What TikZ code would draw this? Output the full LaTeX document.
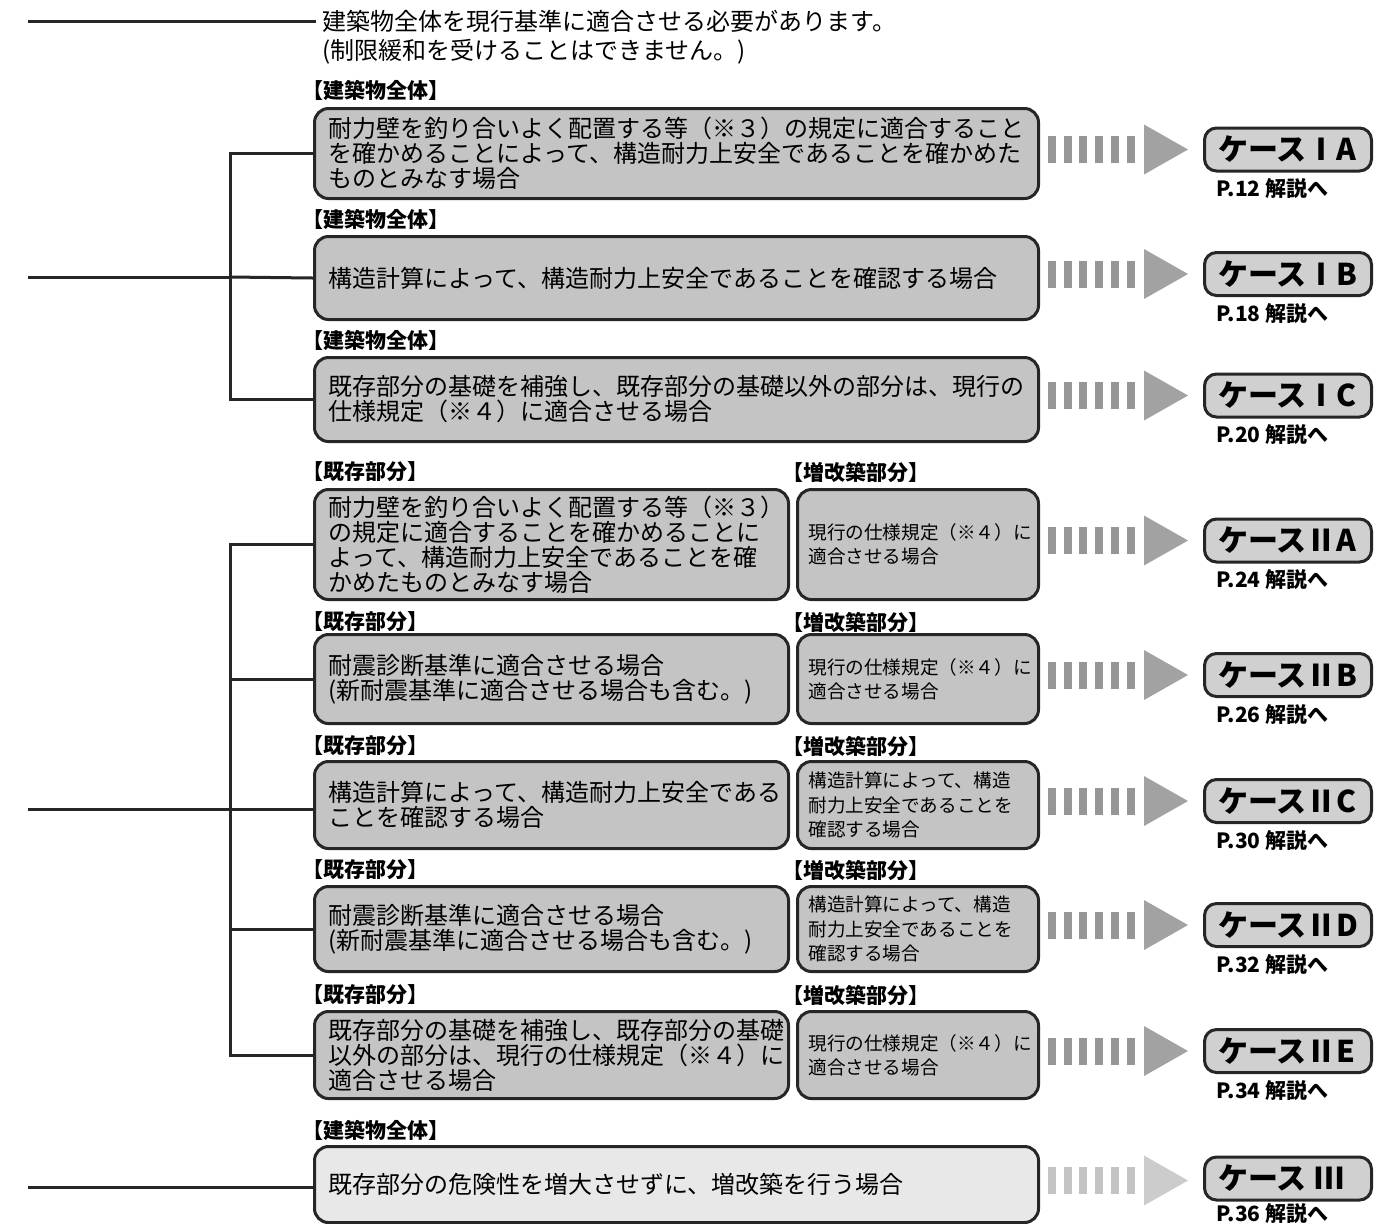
\documentclass[tikz,border=0pt]{standalone}
\usepackage{fontspec}
\setmainfont{Noto Sans CJK JP}
\usetikzlibrary{calc, positioning}
\definecolor{cBox}{RGB}{196,196,196}
\definecolor{cCase}{RGB}{208,208,208}
\definecolor{cLite}{RGB}{232,232,232}
\definecolor{cEdge}{RGB}{38,38,38}
\definecolor{cBar}{RGB}{150,150,150}
\definecolor{cTri}{RGB}{162,162,162}
\definecolor{cBarLite}{RGB}{196,196,196}
\definecolor{cTriLite}{RGB}{204,204,204}

\tikzset{
  box/.style={draw=cEdge, line width=1.5pt, rounded corners=7pt, fill=cBox, anchor=north west,
    align=left, inner xsep=7pt, inner ysep=0pt, font=\fontsize{12}{12.5}\selectfont},
  widebox/.style={box, text width=348pt},
  leftbox/.style={box, text width=223pt},
  rightbox/.style={box, text width=109.5pt, inner xsep=5.5pt, font=\fontsize{9.3}{12.2}\selectfont},
  tag/.style={anchor=west, inner sep=0pt, font=\bfseries\fontsize{10.5}{11}\selectfont},
  casebox/.style={draw=cEdge, line width=1.5pt, rounded corners=6pt, fill=cCase, anchor=west,
    minimum height=21.5pt, text width=70pt, inner xsep=6.75pt, inner ysep=0pt, align=left,
    font=\bfseries\fontsize{15}{15}\selectfont},
  ref/.style={anchor=north west, inner sep=0pt, font=\bfseries\fontsize{10.5}{10.5}\selectfont},
  wire/.style={draw=cEdge, line width=1.5pt},
}

% striped arrow from a row to its case box
\newcommand{\bararrow}[3]{%
  \foreach \k in {0,...,5}
    \fill[#2] ($(#1.east)+(8+15.7*\k,-17.5)$) rectangle +(8,27);
  \fill[#3] ($(#1.east)+(104,-29)$) -- ++(44,25) -- ++(-44,25) -- cycle;
}

\begin{document}
\begin{tikzpicture}[x=0.5pt, y=-0.5pt]
    \useasboundingbox (0,0) rectangle (1396,1223);

    % Top line
    \coordinate (s0) at (28,21);
    \node[anchor=west, inner xsep=3pt, font=\fontsize{12}{15}\selectfont] (top1) at (316,21) {建築物全体を現行基準に適合させる必要があります。};
    \node[anchor=west, inner xsep=3pt, font=\fontsize{12}{15}\selectfont] (top2) at (316,52) {(制限緩和を受けることはできません。)};
    \draw[wire] (s0) -- (top1.west);

    % Case I
    \node[tag] (ia-tag) at (302,90) {【建築物全体】};
    \node[widebox, minimum height=45pt] (ia) at (313,107) {耐力壁を釣り合いよく配置する等（※３）の規定に適合すること\\を確かめることによって、構造耐力上安全であることを確かめた\\ものとみなす場合};
    \node[tag] (ib-tag) at (302,219) {【建築物全体】};
    \node[widebox, minimum height=41.5pt] (ib) at (313,235) {構造計算によって、構造耐力上安全であることを確認する場合};
    \node[tag] (ic-tag) at (302,340) {【建築物全体】};
    \node[widebox, minimum height=42pt] (ic) at (313,356) {既存部分の基礎を補強し、既存部分の基礎以外の部分は、現行の\\仕様規定（※４）に適合させる場合};

    \coordinate (s1) at (28,277);
    \coordinate (j1) at (230,277);
    \draw[wire] (s1) -- (j1);
    \draw[wire] (ia.west) -| (j1) |- (ic.west);
    \draw[wire] (j1) -- (ib.west);

    % Case II
    \node[tag] (iia-tag) at (302,472) {【既存部分】};
    \node[tag] (iia-tag2) at (782,472) {【増改築部分】};
    \node[leftbox, minimum height=55pt] (iia-l) at (313,488) {耐力壁を釣り合いよく配置する等（※３）\\の規定に適合することを確かめることに\\よって、構造耐力上安全であることを確\\かめたものとみなす場合};
    \node[rightbox, minimum height=55pt] (iia) at (796,488) {現行の仕様規定（※４）に\\適合させる場合};

    \node[tag] (iib-tag) at (302,622) {【既存部分】};
    \node[tag] (iib-tag2) at (782,622) {【増改築部分】};
    \node[leftbox, minimum height=44.5pt] (iib-l) at (313,633) {耐震診断基準に適合させる場合\\(新耐震基準に適合させる場合も含む。)};
    \node[rightbox, minimum height=44.5pt] (iib) at (796,633) {現行の仕様規定（※４）に\\適合させる場合};

    \node[tag] (iic-tag) at (302,746) {【既存部分】};
    \node[tag] (iic-tag2) at (782,746) {【増改築部分】};
    \node[leftbox, minimum height=43.5pt] (iic-l) at (313,760) {構造計算によって、構造耐力上安全である\\ことを確認する場合};
    \node[rightbox, minimum height=43.5pt] (iic) at (796,760) {構造計算によって、構造\\耐力上安全であることを\\確認する場合};

    \node[tag] (iid-tag) at (302,870) {【既存部分】};
    \node[tag] (iid-tag2) at (782,870) {【増改築部分】};
    \node[leftbox, minimum height=42.5pt] (iid-l) at (313,885) {耐震診断基準に適合させる場合\\(新耐震基準に適合させる場合も含む。)};
    \node[rightbox, minimum height=42.5pt] (iid) at (796,885) {構造計算によって、構造\\耐力上安全であることを\\確認する場合};

    \node[tag] (iie-tag) at (302,995) {【既存部分】};
    \node[tag] (iie-tag2) at (782,995) {【増改築部分】};
    \node[leftbox, minimum height=43.5pt] (iie-l) at (313,1010) {既存部分の基礎を補強し、既存部分の基礎\\以外の部分は、現行の仕様規定（※４）に\\適合させる場合};
    \node[rightbox, minimum height=43.5pt] (iie) at (796,1010) {現行の仕様規定（※４）に\\適合させる場合};

    \coordinate (s2) at (28,809);
    \coordinate (j2) at (230,809);
    \draw[wire] (s2) -- (j2) -- (j2 -| iic-l.west);
    \draw[wire] (iia-l.west) -| (j2) |- (iie-l.west);
    \draw[wire] (iib-l.west) -- (iib-l.west -| j2);
    \draw[wire] (iid-l.west) -- (iid-l.west -| j2);

    % Case III
    \node[tag] (iii-tag) at (302,1130) {【建築物全体】};
    \node[widebox, fill=cLite, minimum height=38pt] (iii) at (313,1145) {既存部分の危険性を増大させずに、増改築を行う場合};
    \coordinate (s3) at (28,1187);
    \draw[wire] (s3) -- (s3 -| iii.west);

    % Arrows
    \foreach \r in {ia, ib, ic, iia, iib, iic, iid, iie}
      {\bararrow{\r}{cBar}{cTri}}
    \bararrow{iii}{cBarLite}{cTriLite}

    % Case labels
    \node[casebox] (ia-case) at ($(ia.east)+(163,-4)$) {ケースⅠA};
    \node[casebox] (ib-case) at ($(ib.east)+(163,-4)$) {ケースⅠB};
    \node[casebox] (ic-case) at ($(ic.east)+(163,-4)$) {ケースⅠC};
    \node[casebox] (iia-case) at ($(iia.east)+(163,-4)$) {ケースⅡA};
    \node[casebox] (iib-case) at ($(iib.east)+(163,-4)$) {ケースⅡB};
    \node[casebox] (iic-case) at ($(iic.east)+(163,-4)$) {ケースⅡC};
    \node[casebox] (iid-case) at ($(iid.east)+(163,-4)$) {ケースⅡD};
    \node[casebox] (iie-case) at ($(iie.east)+(163,-4)$) {ケースⅡE};
    \node[casebox] (iii-case) at ($(iii.east)+(163,-6)$) {ケース\hspace{4pt}Ⅲ};

    \node[ref] at ($(ia-case.south west)+(13,6)$) {P.12 解説へ};
    \node[ref] at ($(ib-case.south west)+(13,6)$) {P.18 解説へ};
    \node[ref] at ($(ic-case.south west)+(13,6)$) {P.20 解説へ};
    \node[ref] at ($(iia-case.south west)+(13,6)$) {P.24 解説へ};
    \node[ref] at ($(iib-case.south west)+(13,6)$) {P.26 解説へ};
    \node[ref] at ($(iic-case.south west)+(13,6)$) {P.30 解説へ};
    \node[ref] at ($(iid-case.south west)+(13,6)$) {P.32 解説へ};
    \node[ref] at ($(iie-case.south west)+(13,6)$) {P.34 解説へ};
    \node[ref] at ($(iii-case.south west)+(13,2)$) {P.36 解説へ};
\end{tikzpicture}
\end{document}
